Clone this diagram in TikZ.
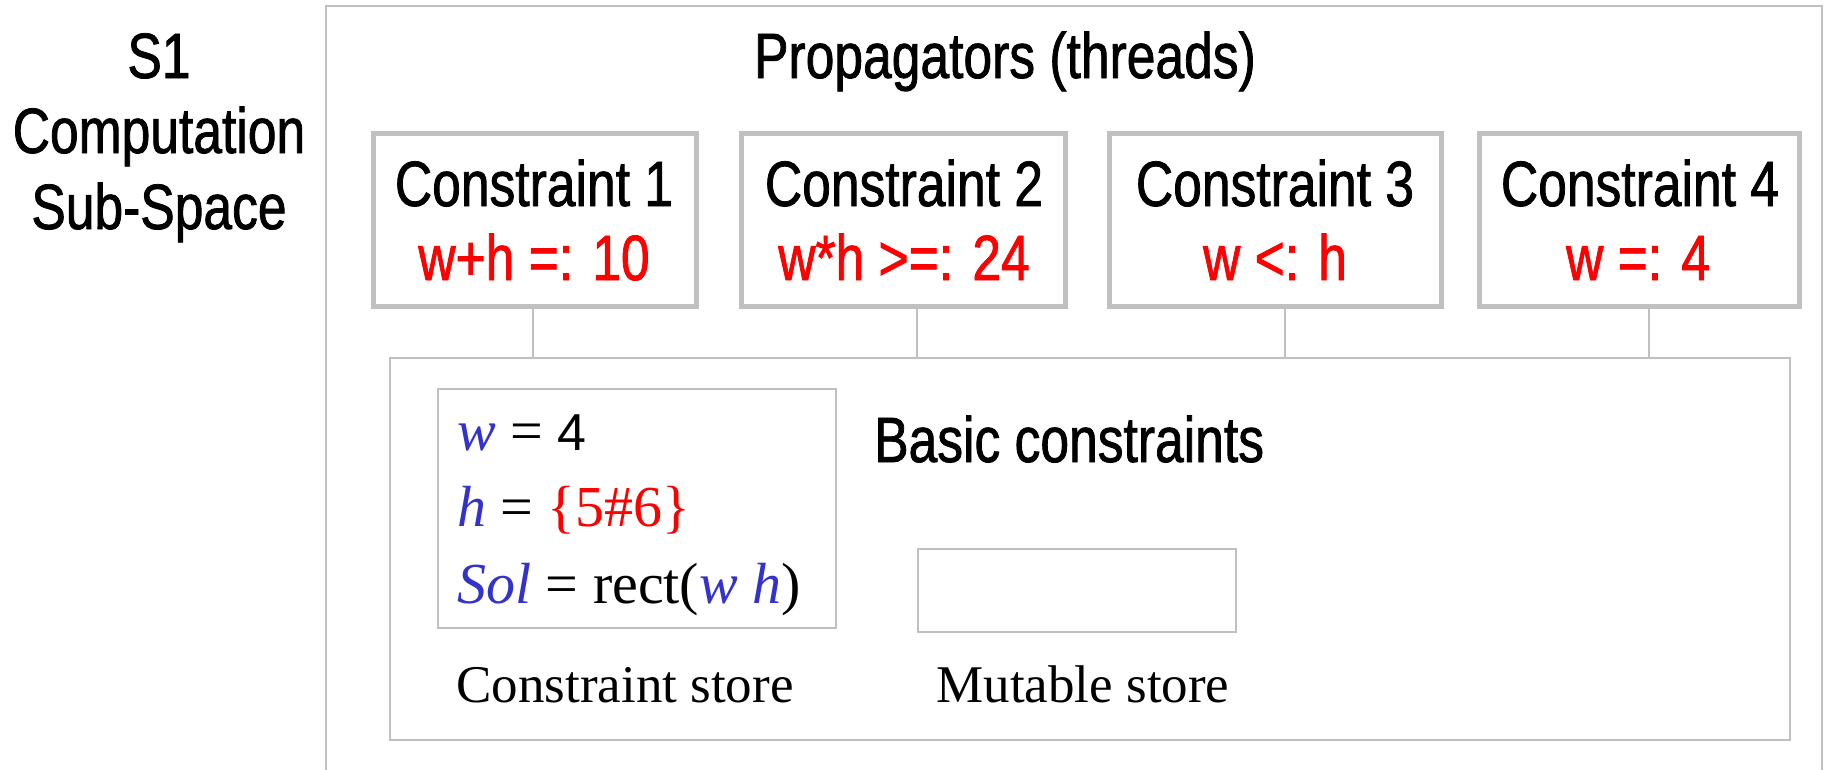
\documentclass[tikz,border=0pt]{standalone}
\usepackage{fontspec}
\setmainfont{Liberation Serif}
\newfontfamily\narsans[FakeStretch=0.806,FakeBold=1.2]{Liberation Sans}
\newfontfamily\plainsans{Liberation Sans}
\definecolor{bgray}{RGB}{192,192,192}
\definecolor{vblue}{RGB}{51,51,204}
\definecolor{vred}{RGB}{255,0,0}
\begin{document}
\begin{tikzpicture}[x=1pt,y=-1pt,
  cbox/.style={draw=bgray,line width=5pt,minimum height=173pt,inner sep=0pt},
  thinbox/.style={draw=bgray,line width=2pt,inner sep=0pt},
  link/.style={draw=bgray,line width=2pt},
  bigsans/.style={font=\narsans\fontsize{64}{76}\selectfont,inner sep=0pt,anchor=base},
  redsans/.style={bigsans,text=vred},
  storetxt/.style={font=\fontsize{58}{68}\selectfont,inner sep=0pt,anchor=base west},
  caption/.style={font=\fontsize{53}{62}\selectfont,inner sep=0pt,anchor=base}
]
\useasboundingbox (0,0) rectangle (1829,769);
\fill[white] (0,0) rectangle (1829,769);

% outer computation space frame
\coordinate (fbl) at (326,770);
\coordinate (ftl) at (326,6);
\coordinate (ftr) at (1822,6);
\coordinate (fbr) at (1822,770);
\draw[link] (fbl) -- (ftl) -- (ftr) -- (fbr);

% left title
\node[bigsans] (s1a) at (159,78) {S1};
\node[bigsans] (s1b) at (159,153) {Computation};
\node[bigsans] (s1c) at (159,229) {Sub-Space};

% header
\node[bigsans] (prop) at (1005,78) {Propagators (threads)};

% constraint boxes
\node[cbox,minimum width=323pt] (c1) at (535,220) {};
\node[cbox,minimum width=324pt] (c2) at (903.5,220) {};
\node[cbox,minimum width=332pt] (c3) at (1275.5,220) {};
\node[cbox,minimum width=320pt] (c4) at (1639.5,220) {};

\node[bigsans] (c1a) at (534,206) {Constraint 1};
\node[redsans] (c1b) at (534,280) {w+h =: 10};
\node[bigsans] (c2a) at (904,206) {Constraint 2};
\node[redsans] (c2b) at (904,280) {w*h >=: 24};
\node[bigsans] (c3a) at (1275,206) {Constraint 3};
\node[redsans] (c3b) at (1275,280) {w <: h};
\node[bigsans] (c4a) at (1640,206) {Constraint 4};
\node[redsans] (c4b) at (1638,280) {w =: 4};

% basic constraints area
\node[thinbox,minimum width=1400pt,minimum height=382pt] (basic) at (1090,549) {};
\node[bigsans,anchor=base west] (basiclbl) at (874,462) {Basic constraints};

% connectors
\draw[link] ([xshift=-2pt]c1.south) -- ([xshift=-2pt]c1.south |- basic.north);
\draw[link] ([xshift=13.5pt]c2.south) -- ([xshift=13.5pt]c2.south |- basic.north);
\draw[link] ([xshift=9.5pt]c3.south) -- ([xshift=9.5pt]c3.south |- basic.north);
\draw[link] ([xshift=9.5pt]c4.south) -- ([xshift=9.5pt]c4.south |- basic.north);

% constraint store
\node[thinbox,minimum width=398pt,minimum height=239pt] (cstore) at (637,508.5) {};
\node[storetxt] (l1) at (457,450) {{\color{vblue}\itshape w} = {\plainsans\fontsize{52}{60}\selectfont 4}};
\node[storetxt] (l2) at (457,526) {{\color{vblue}\itshape h} = {\color{vred}\{5\#6\}}};
\node[storetxt] (l3) at (457,603) {{\color{vblue}\itshape Sol} = rect({\color{vblue}\itshape w h})};
\node[caption] (cslbl) at (625,702) {Constraint store};

% mutable store
\node[thinbox,minimum width=318pt,minimum height=83pt] (mstore) at (1077,590.5) {};
\node[caption] (mslbl) at (1083,702) {Mutable store};
\end{tikzpicture}
\end{document}
